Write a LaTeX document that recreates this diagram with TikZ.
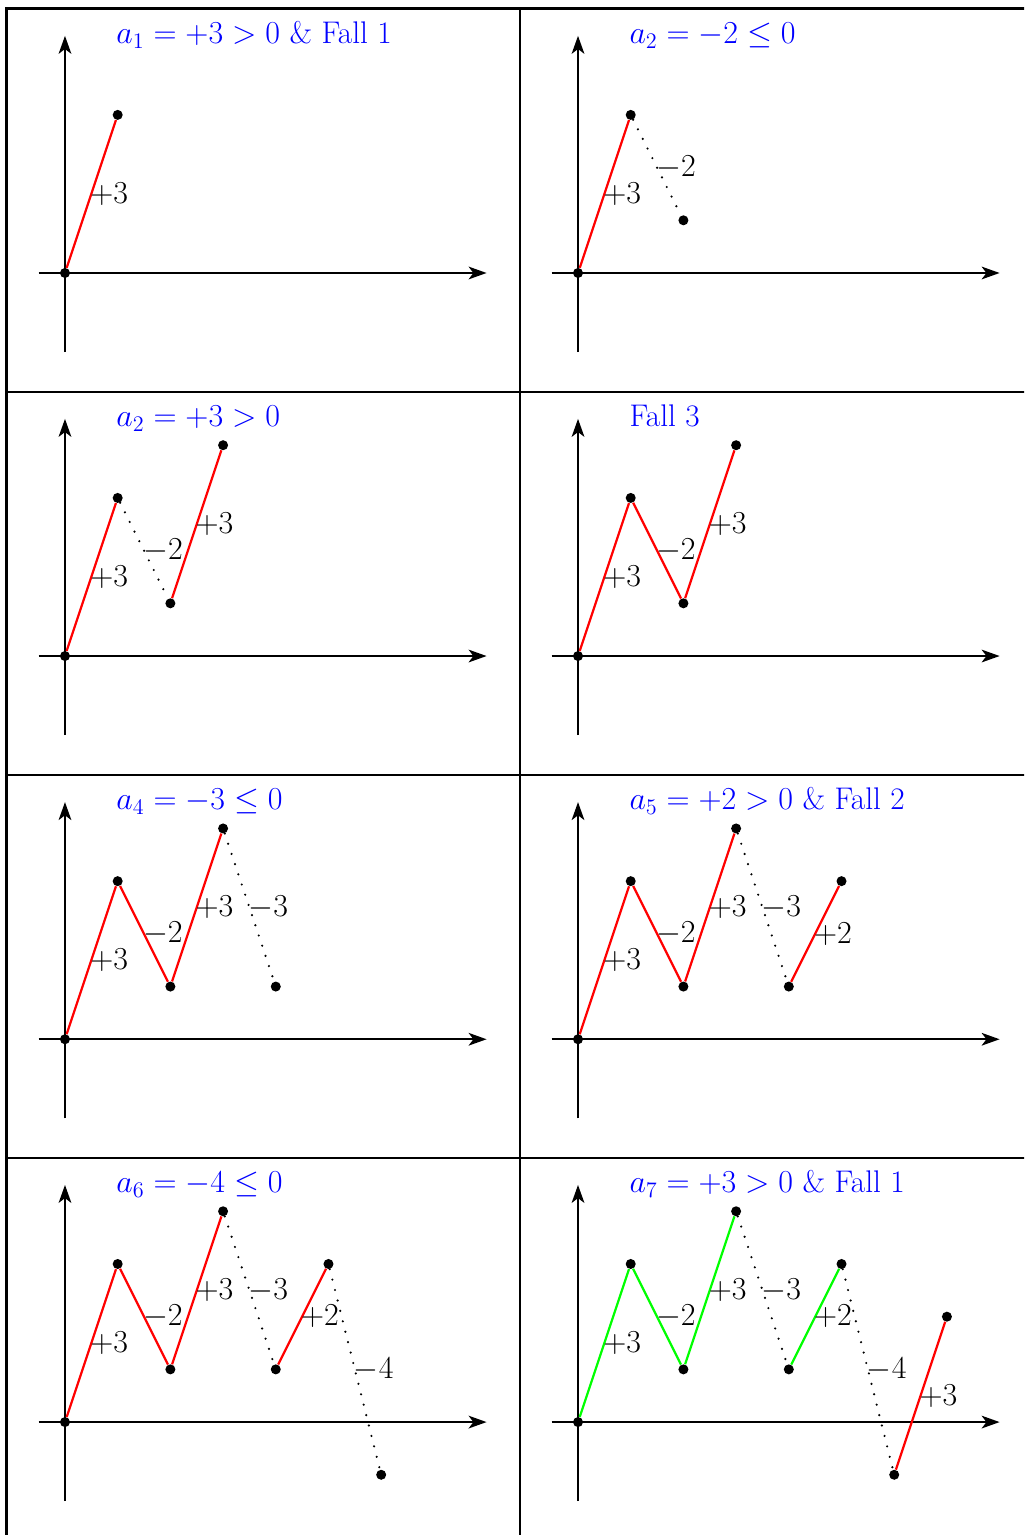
\documentclass[tikz,border=0pt]{standalone}
\usepackage{amsmath}
\usetikzlibrary{arrows.meta}

\begin{document}
\begin{tikzpicture}[>={Stealth[length=3.4mm,width=2.4mm,inset=0.9mm]},
  every node/.style={font=\fontsize{16.9}{20}\selectfont},
  axisline/.style={line width=1.2pt,->},
  rise/.style={draw=red,line width=1.2pt},
  kept/.style={draw=green,line width=1.2pt},
  drop/.style={line width=1.3pt,line cap=round,dash pattern=on 0pt off 5.8pt},
  dot/.style={circle,fill=black,inner sep=0pt,minimum size=1.9mm},
  steplbl/.style={right,inner sep=0pt,xshift=-0.04cm},
  paneltitle/.style={anchor=base west,inner sep=0pt,text=blue}]
\useasboundingbox (0,0) rectangle (19.431,-29.127);
\clip (0,0) rectangle (19.431,-29.127);
% table frame
\draw[line width=1.6pt] (0.123,-29.6) -- (0.123,-0.161) -- (19.8,-0.161);
\draw[line width=1.1pt] (9.867,-0.161) -- (9.867,-29.6);
\foreach \y in {-7.438,-14.706,-21.973,-29.24}
  \draw[line width=1.1pt] (0.123,\y) -- (19.8,\y);

% panel 1
\begin{scope}[shift={(1.233,-5.18)}]
\draw[axisline] (-0.5,0) -- (8,0);
\draw[axisline] (0,-1.5) -- (0,4.5);
\node[paneltitle] (t1) at (0.97,4.36) {$a_1 = +3 > 0$ \& Fall 1};
\node[dot] (a0) at (0,0) {};
\node[dot] (a1) at (1,3) {};
\draw[rise] (a0) -- node[steplbl] {$+3$} (a1);
\end{scope}

% panel 2
\begin{scope}[shift={(10.968,-5.18)}]
\draw[axisline] (-0.5,0) -- (8,0);
\draw[axisline] (0,-1.5) -- (0,4.5);
\node[paneltitle] (t2) at (0.97,4.36) {$a_2 = -2 \le 0$};
\node[dot] (a0) at (0,0) {};
\node[dot] (a1) at (1,3) {};
\node[dot] (a2) at (2,1) {};
\draw[rise] (a0) -- node[steplbl] {$+3$} (a1);
\draw[drop] (a1) -- node[steplbl] {$-2$} (a2);
\end{scope}

% panel 3
\begin{scope}[shift={(1.233,-12.448)}]
\draw[axisline] (-0.5,0) -- (8,0);
\draw[axisline] (0,-1.5) -- (0,4.5);
\node[paneltitle] (t3) at (0.97,4.36) {$a_2 = +3 > 0$};
\node[dot] (a0) at (0,0) {};
\node[dot] (a1) at (1,3) {};
\node[dot] (a2) at (2,1) {};
\node[dot] (a3) at (3,4) {};
\draw[rise] (a0) -- node[steplbl] {$+3$} (a1);
\draw[drop] (a1) -- node[steplbl] {$-2$} (a2);
\draw[rise] (a2) -- node[steplbl] {$+3$} (a3);
\end{scope}

% panel 4
\begin{scope}[shift={(10.968,-12.448)}]
\draw[axisline] (-0.5,0) -- (8,0);
\draw[axisline] (0,-1.5) -- (0,4.5);
\node[paneltitle] (t4) at (0.97,4.36) {Fall 3};
\node[dot] (a0) at (0,0) {};
\node[dot] (a1) at (1,3) {};
\node[dot] (a2) at (2,1) {};
\node[dot] (a3) at (3,4) {};
\draw[rise] (a0) -- node[steplbl] {$+3$} (a1);
\draw[rise] (a1) -- node[steplbl] {$-2$} (a2);
\draw[rise] (a2) -- node[steplbl] {$+3$} (a3);
\end{scope}

% panel 5
\begin{scope}[shift={(1.233,-19.72)}]
\draw[axisline] (-0.5,0) -- (8,0);
\draw[axisline] (0,-1.5) -- (0,4.5);
\node[paneltitle] (t5) at (0.97,4.36) {$a_4 = -3 \le 0$};
\node[dot] (a0) at (0,0) {};
\node[dot] (a1) at (1,3) {};
\node[dot] (a2) at (2,1) {};
\node[dot] (a3) at (3,4) {};
\node[dot] (a4) at (4,1) {};
\draw[rise] (a0) -- node[steplbl] {$+3$} (a1);
\draw[rise] (a1) -- node[steplbl] {$-2$} (a2);
\draw[rise] (a2) -- node[steplbl] {$+3$} (a3);
\draw[drop] (a3) -- node[steplbl] {$-3$} (a4);
\end{scope}

% panel 6
\begin{scope}[shift={(10.968,-19.72)}]
\draw[axisline] (-0.5,0) -- (8,0);
\draw[axisline] (0,-1.5) -- (0,4.5);
\node[paneltitle] (t6) at (0.97,4.36) {$a_5 = +2 > 0$ \& Fall 2};
\node[dot] (a0) at (0,0) {};
\node[dot] (a1) at (1,3) {};
\node[dot] (a2) at (2,1) {};
\node[dot] (a3) at (3,4) {};
\node[dot] (a4) at (4,1) {};
\node[dot] (a5) at (5,3) {};
\draw[rise] (a0) -- node[steplbl] {$+3$} (a1);
\draw[rise] (a1) -- node[steplbl] {$-2$} (a2);
\draw[rise] (a2) -- node[steplbl] {$+3$} (a3);
\draw[drop] (a3) -- node[steplbl] {$-3$} (a4);
\draw[rise] (a4) -- node[steplbl] {$+2$} (a5);
\end{scope}

% panel 7
\begin{scope}[shift={(1.233,-26.984)}]
\draw[axisline] (-0.5,0) -- (8,0);
\draw[axisline] (0,-1.5) -- (0,4.5);
\node[paneltitle] (t7) at (0.97,4.36) {$a_6 = -4 \le 0$};
\node[dot] (a0) at (0,0) {};
\node[dot] (a1) at (1,3) {};
\node[dot] (a2) at (2,1) {};
\node[dot] (a3) at (3,4) {};
\node[dot] (a4) at (4,1) {};
\node[dot] (a5) at (5,3) {};
\node[dot] (a6) at (6,-1) {};
\draw[rise] (a0) -- node[steplbl] {$+3$} (a1);
\draw[rise] (a1) -- node[steplbl] {$-2$} (a2);
\draw[rise] (a2) -- node[steplbl] {$+3$} (a3);
\draw[drop] (a3) -- node[steplbl] {$-3$} (a4);
\draw[rise] (a4) -- node[steplbl] {$+2$} (a5);
\draw[drop] (a5) -- node[steplbl] {$-4$} (a6);
\end{scope}

% panel 8
\begin{scope}[shift={(10.968,-26.984)}]
\draw[axisline] (-0.5,0) -- (8,0);
\draw[axisline] (0,-1.5) -- (0,4.5);
\node[paneltitle] (t8) at (0.97,4.36) {$a_7 = +3 > 0$ \& Fall 1};
\node[dot] (a0) at (0,0) {};
\node[dot] (a1) at (1,3) {};
\node[dot] (a2) at (2,1) {};
\node[dot] (a3) at (3,4) {};
\node[dot] (a4) at (4,1) {};
\node[dot] (a5) at (5,3) {};
\node[dot] (a6) at (6,-1) {};
\node[dot] (a7) at (7,2) {};
\draw[kept] (a0) -- node[steplbl] {$+3$} (a1);
\draw[kept] (a1) -- node[steplbl] {$-2$} (a2);
\draw[kept] (a2) -- node[steplbl] {$+3$} (a3);
\draw[drop] (a3) -- node[steplbl] {$-3$} (a4);
\draw[kept] (a4) -- node[steplbl] {$+2$} (a5);
\draw[drop] (a5) -- node[steplbl] {$-4$} (a6);
\draw[rise] (a6) -- node[steplbl] {$+3$} (a7);
\end{scope}
\end{tikzpicture}
\end{document}
